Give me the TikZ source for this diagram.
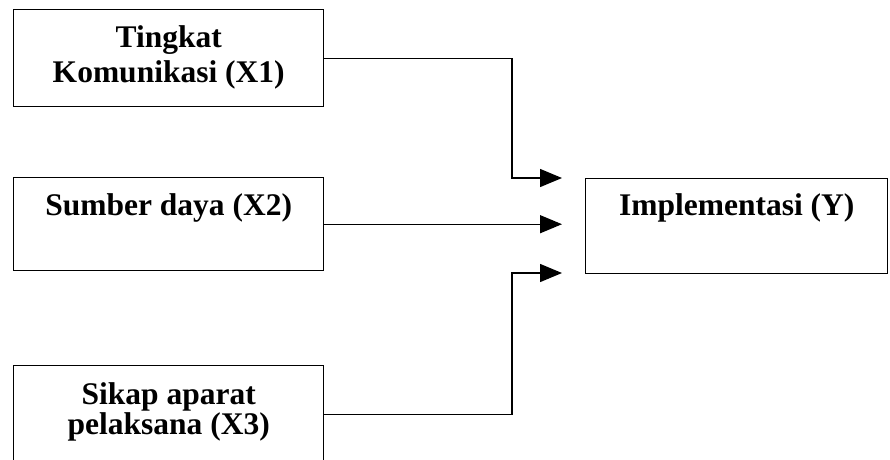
\documentclass[tikz,border=0pt]{standalone}
\usepackage{fontspec}
\setmainfont{Liberation Serif}
\usetikzlibrary{arrows.meta}
\newcommand\boxtxt[4]{\parbox[t][#1][t]{#2}{\centering\vspace*{#3}#4\par}}
\begin{document}
\begin{tikzpicture}[x=1pt,y=-1pt,
  box/.style={draw, line width=1.4pt, inner sep=0pt, anchor=north west,
    font=\fontsize{31.5}{35}\selectfont\bfseries},
  conn/.style={line width=1.4pt, -{Triangle[length=22pt,width=18pt]}}]
\useasboundingbox (0,0) rectangle (890,459);
\node[box] (b1) at (13,9) {\boxtxt{97pt}{310pt}{16pt}{Tingkat\\ Komunikasi (X1)}};
\node[box] (b2) at (13,177) {\boxtxt{93pt}{310pt}{16pt}{Sumber daya (X2)}};
\node[box, font=\fontsize{31.5}{30}\selectfont\bfseries] (b3) at (13,365) {\boxtxt{97pt}{310pt}{17pt}{Sikap aparat\\ pelaksana (X3)}};
\node[box] (y) at (585,178) {\boxtxt{95pt}{302pt}{15pt}{Implementasi (Y)}};
\coordinate (j1) at (512,178);
\coordinate (t1) at (562,178);
\coordinate (t2) at (562,224);
\coordinate (j3) at (512,273);
\coordinate (t3) at (562,273);
\draw[conn] (b1.east) -| (j1) -- (t1);
\draw[conn] (b2.east) -- (b2.east -| t2);
\draw[conn] (b3.east) -| (j3) -- (t3);
\end{tikzpicture}
\end{document}
